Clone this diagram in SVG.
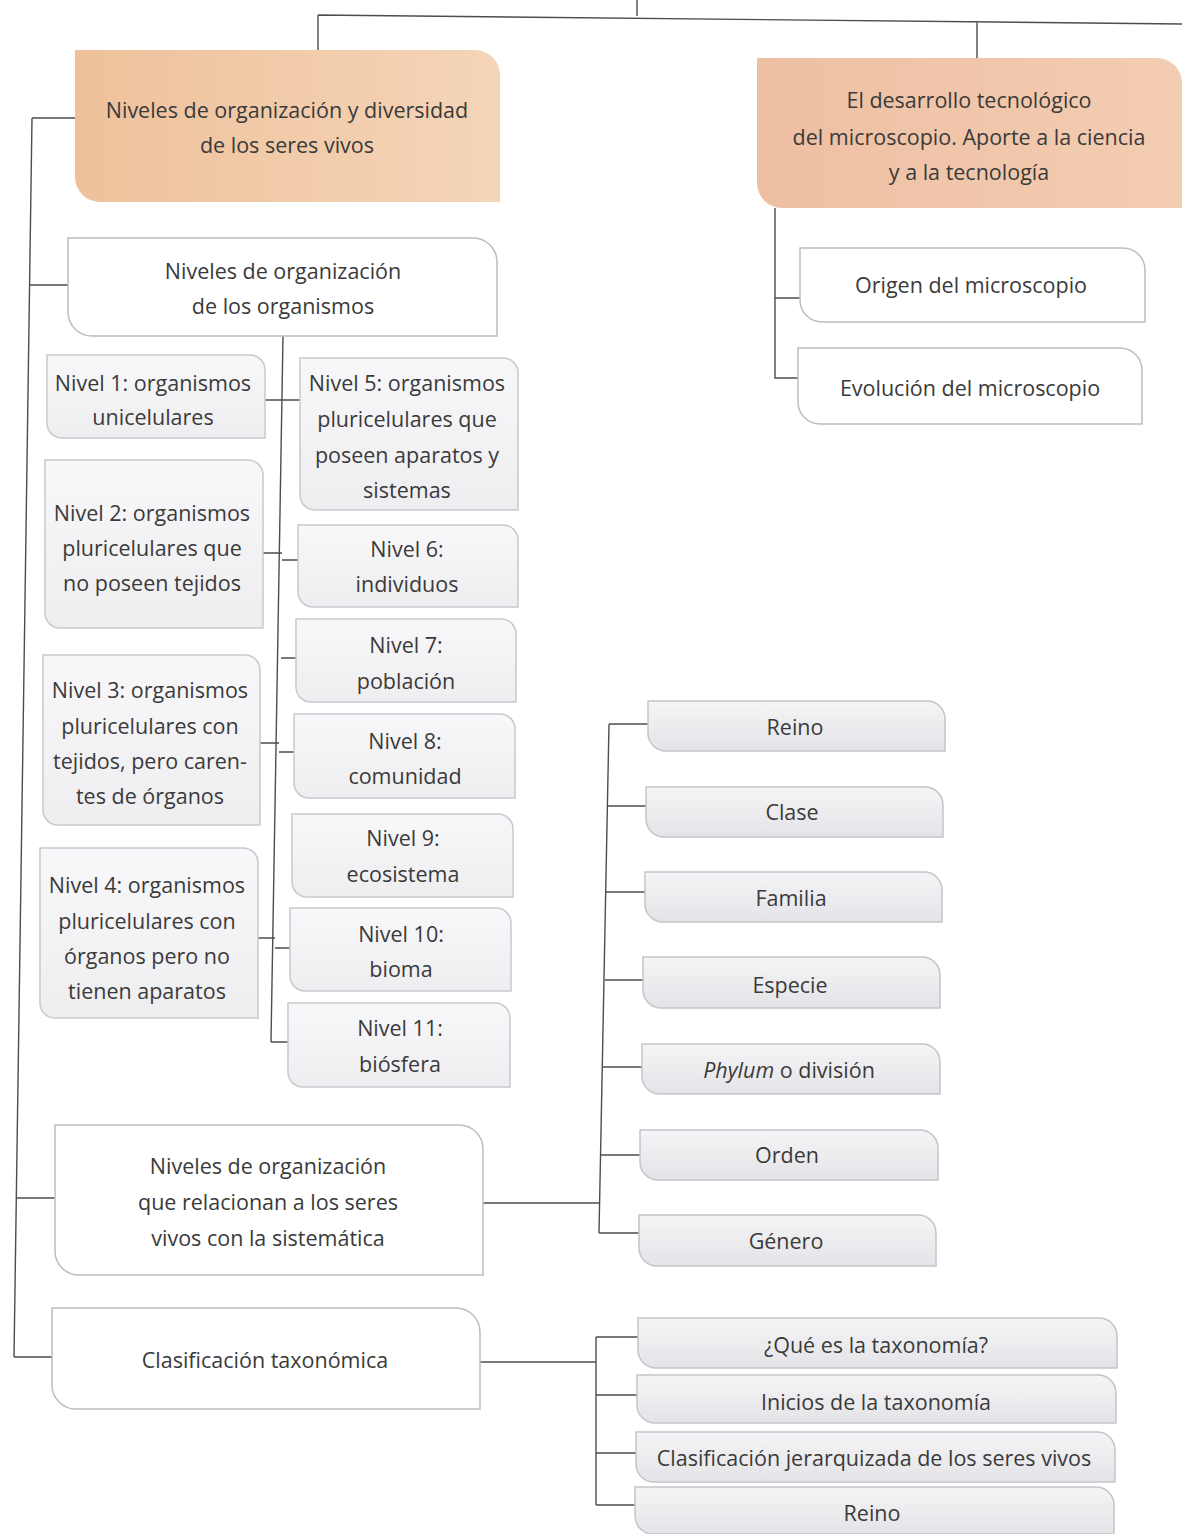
<svg xmlns="http://www.w3.org/2000/svg" width="1182" height="1534" viewBox="0 0 1182 1534">
<defs>
<linearGradient id="gOr" x1="0" y1="0" x2="1" y2="0"><stop offset="0" stop-color="#eec19b"/><stop offset="1" stop-color="#f5d5b8"/></linearGradient>
<linearGradient id="gOr2" x1="0" y1="0" x2="1" y2="0"><stop offset="0" stop-color="#eebfa2"/><stop offset="1" stop-color="#f3cdb2"/></linearGradient>
<linearGradient id="gGr" x1="0" y1="0" x2="0" y2="1"><stop offset="0" stop-color="#f5f5f7"/><stop offset="1" stop-color="#e4e4e8"/></linearGradient>
<linearGradient id="gLt" x1="0" y1="0" x2="0" y2="1"><stop offset="0" stop-color="#f8f8fa"/><stop offset="1" stop-color="#eeeef1"/></linearGradient>
<style>
text{font-family:"Open Sans","Liberation Sans",sans-serif;font-size:21.5px;fill:#3a3a3a;text-anchor:middle}
.or{fill:url(#gOr);stroke:none}
.or2{fill:url(#gOr2);stroke:none}
.wh{fill:#ffffff;stroke:#bdbdc2;stroke-width:1.5}
.gr{fill:url(#gGr);stroke:#c4c4ca;stroke-width:1.5}
.lt{fill:url(#gLt);stroke:#c8c8ce;stroke-width:1.5}
#connectors path{fill:none;stroke:#4d4d4d;stroke-width:1.4}
</style>
</defs>
<rect width="1182" height="1534" fill="#ffffff"/>

<g id="connectors">
<path d="M318,15 L1182,24 M637,0 V16 M318,15 V50 M977,21 V58"/>
<path d="M32,118 L14,1357 M32,118 H75 M30,285 H68 M16,1198 H55 M14,1357 H52"/>
<path d="M775,208 V378 H798 M775,298 H800"/>
<path d="M283,336 L271,1042 M265,400 H300 M263,553 H282 M282,560 H298 M281,658 H296 M260,743 H279 M279,752 H294 M258,938 H275 M275,948 H290 M271,1042 H288"/>
<path d="M483,1203 H600 M609,724 L599,1233 M609,724 H648 M608,806 H646 M606,892 H645 M605,980 H643 M603,1067 H642 M601,1155 H640 M599,1233 H639"/>
<path d="M480,1362 H596 M596,1337 V1505 M596,1337 H638 M596,1395 H637 M596,1453 H636 M596,1505 H635"/>
</g>

<g id="n-diversidad"><path class="or" d="M75,50 H475 A25,25 0 0 1 500,75 V202 H100 A25,25 0 0 1 75,177 Z"/>
<text x="287" y="118">Niveles de organización y diversidad</text><text x="287" y="153">de los seres vivos</text></g>

<g id="n-microscopio"><path class="or2" d="M757,58 H1157 A25,25 0 0 1 1182,83 V208 H782 A25,25 0 0 1 757,183 Z"/>
<text x="969" y="108">El desarrollo tecnológico</text><text x="969" y="145">del microscopio. Aporte a la ciencia</text><text x="969" y="180">y a la tecnología</text></g>

<g id="n-origen"><path class="wh" d="M800,248 H1123 A22,22 0 0 1 1145,270 V322 H822 A22,22 0 0 1 800,300 Z"/>
<text x="971" y="293">Origen del microscopio</text></g>
<g id="n-evolucion"><path class="wh" d="M798,348 H1120 A22,22 0 0 1 1142,370 V424 H820 A22,22 0 0 1 798,402 Z"/>
<text x="970" y="396">Evolución del microscopio</text></g>

<g id="n-organismos"><path class="wh" d="M68,238 H473 A24,24 0 0 1 497,262 V336 H92 A24,24 0 0 1 68,312 Z"/>
<text x="283" y="279">Niveles de organización</text><text x="283" y="314">de los organismos</text></g>

<g id="n-nivel1"><path class="lt" d="M47,355 H250 A15,15 0 0 1 265,370 V438 H62 A15,15 0 0 1 47,423 Z"/>
<text x="153" y="391">Nivel 1: organismos</text><text x="153" y="425">unicelulares</text></g>
<g id="n-nivel2"><path class="lt" d="M45,460 H248 A15,15 0 0 1 263,475 V628 H60 A15,15 0 0 1 45,613 Z"/>
<text x="152" y="521">Nivel 2: organismos</text><text x="152" y="556">pluricelulares que</text><text x="152" y="591">no poseen tejidos</text></g>
<g id="n-nivel3"><path class="lt" d="M43,655 H245 A15,15 0 0 1 260,670 V825 H58 A15,15 0 0 1 43,810 Z"/>
<text x="150" y="698">Nivel 3: organismos</text><text x="150" y="734">pluricelulares con</text><text x="150" y="769">tejidos, pero caren-</text><text x="150" y="804">tes de órganos</text></g>
<g id="n-nivel4"><path class="lt" d="M40,848 H243 A15,15 0 0 1 258,863 V1018 H55 A15,15 0 0 1 40,1003 Z"/>
<text x="147" y="893">Nivel 4: organismos</text><text x="147" y="929">pluricelulares con</text><text x="147" y="964">órganos pero no</text><text x="147" y="999">tienen aparatos</text></g>

<g id="n-nivel5"><path class="lt" d="M300,358 H503 A15,15 0 0 1 518,373 V510 H315 A15,15 0 0 1 300,495 Z"/>
<text x="407" y="391">Nivel 5: organismos</text><text x="407" y="427">pluricelulares que</text><text x="407" y="463">poseen aparatos y</text><text x="407" y="498">sistemas</text></g>
<g id="n-nivel6"><path class="lt" d="M298,525 H503 A15,15 0 0 1 518,540 V607 H313 A15,15 0 0 1 298,592 Z"/>
<text x="407" y="557">Nivel 6:</text><text x="407" y="592">individuos</text></g>
<g id="n-nivel7"><path class="lt" d="M296,619 H501 A15,15 0 0 1 516,634 V702 H311 A15,15 0 0 1 296,687 Z"/>
<text x="406" y="653">Nivel 7:</text><text x="406" y="689">población</text></g>
<g id="n-nivel8"><path class="lt" d="M294,714 H500 A15,15 0 0 1 515,729 V798 H309 A15,15 0 0 1 294,783 Z"/>
<text x="405" y="749">Nivel 8:</text><text x="405" y="784">comunidad</text></g>
<g id="n-nivel9"><path class="lt" d="M292,814 H498 A15,15 0 0 1 513,829 V897 H307 A15,15 0 0 1 292,882 Z"/>
<text x="403" y="846">Nivel 9:</text><text x="403" y="882">ecosistema</text></g>
<g id="n-nivel10"><path class="lt" d="M290,908 H496 A15,15 0 0 1 511,923 V991 H305 A15,15 0 0 1 290,976 Z"/>
<text x="401" y="942">Nivel 10:</text><text x="401" y="977">bioma</text></g>
<g id="n-nivel11"><path class="lt" d="M288,1003 H495 A15,15 0 0 1 510,1018 V1087 H303 A15,15 0 0 1 288,1072 Z"/>
<text x="400" y="1036">Nivel 11:</text><text x="400" y="1072">biósfera</text></g>

<g id="n-sistematica"><path class="wh" d="M55,1125 H459 A24,24 0 0 1 483,1149 V1275 H79 A24,24 0 0 1 55,1251 Z"/>
<text x="268" y="1174">Niveles de organización</text><text x="268" y="1210">que relacionan a los seres</text><text x="268" y="1246">vivos con la sistemática</text></g>
<g id="n-clasificacion"><path class="wh" d="M52,1308 H456 A24,24 0 0 1 480,1332 V1409 H76 A24,24 0 0 1 52,1385 Z"/>
<text x="265" y="1368">Clasificación taxonómica</text></g>

<g id="n-reino"><path class="gr" d="M648,701 H927 A18,18 0 0 1 945,719 V751 H666 A18,18 0 0 1 648,733 Z"/>
<text x="795" y="735">Reino</text></g>
<g id="n-clase"><path class="gr" d="M646,787 H925 A18,18 0 0 1 943,805 V837 H664 A18,18 0 0 1 646,819 Z"/>
<text x="792" y="820">Clase</text></g>
<g id="n-familia"><path class="gr" d="M645,872 H924 A18,18 0 0 1 942,890 V922 H663 A18,18 0 0 1 645,904 Z"/>
<text x="791" y="906">Familia</text></g>
<g id="n-especie"><path class="gr" d="M643,957 H922 A18,18 0 0 1 940,975 V1008 H661 A18,18 0 0 1 643,990 Z"/>
<text x="790" y="993">Especie</text></g>
<g id="n-phylum"><path class="gr" d="M642,1044 H922 A18,18 0 0 1 940,1062 V1094 H660 A18,18 0 0 1 642,1076 Z"/>
<text x="789" y="1078"><tspan font-style="italic">Phylum</tspan> o división</text></g>
<g id="n-orden"><path class="gr" d="M640,1130 H920 A18,18 0 0 1 938,1148 V1180 H658 A18,18 0 0 1 640,1162 Z"/>
<text x="787" y="1163">Orden</text></g>
<g id="n-genero"><path class="gr" d="M639,1215 H918 A18,18 0 0 1 936,1233 V1266 H657 A18,18 0 0 1 639,1248 Z"/>
<text x="786" y="1249">Género</text></g>

<g id="n-que"><path class="gr" d="M638,1318 H1099 A18,18 0 0 1 1117,1336 V1368 H656 A18,18 0 0 1 638,1350 Z"/>
<text x="876" y="1353">¿Qué es la taxonomía?</text></g>
<g id="n-inicios"><path class="gr" d="M637,1375 H1098 A18,18 0 0 1 1116,1393 V1423 H655 A18,18 0 0 1 637,1405 Z"/>
<text x="876" y="1410">Inicios de la taxonomía</text></g>
<g id="n-jerarquizada"><path class="gr" d="M636,1432 H1097 A18,18 0 0 1 1115,1450 V1482 H654 A18,18 0 0 1 636,1464 Z"/>
<text x="874" y="1466">Clasificación jerarquizada de los seres vivos</text></g>
<g id="n-reino2"><path class="gr" d="M635,1487 H1096 A18,18 0 0 1 1114,1505 V1534 H653 A18,18 0 0 1 635,1516 Z"/>
<text x="872" y="1521">Reino</text></g>
</svg>
